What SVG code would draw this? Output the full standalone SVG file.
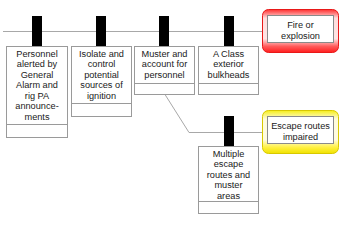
<svg xmlns="http://www.w3.org/2000/svg" width="350" height="250" viewBox="0 0 350 250">
<defs>
<style>
.box{fill:#fff;stroke:#9a9a9a;stroke-width:1}
.div{stroke:#9a9a9a;stroke-width:1;fill:none}
.bar{fill:#000}
.conn{stroke:#a8a8a8;stroke-width:1;fill:none}
text{font-family:"Liberation Sans",Arial,sans-serif;font-size:9.2px;fill:#1a1a1a;text-anchor:middle}
.inner{fill:#fff;stroke:#8a8a8a;stroke-width:1}
</style>
<linearGradient id="gRed" x1="0" y1="0" x2="0" y2="1">
<stop offset="0" stop-color="#ff2e2e"/>
<stop offset="0.2" stop-color="#ffdcdc"/>
<stop offset="0.68" stop-color="#ffe4e4"/>
<stop offset="0.86" stop-color="#ff5a5a"/>
<stop offset="1" stop-color="#ff1c1c"/>
</linearGradient>
<linearGradient id="gYel" x1="0" y1="0" x2="0" y2="1">
<stop offset="0" stop-color="#f6ee18"/>
<stop offset="0.2" stop-color="#fffcdc"/>
<stop offset="0.68" stop-color="#fffbe0"/>
<stop offset="0.86" stop-color="#fff040"/>
<stop offset="1" stop-color="#f0e200"/>
</linearGradient>
</defs>
<g id="connectors">
<path class="conn" d="M3,31.5 H262"/>
<path class="conn" d="M165,94.5 L189,132.5 H262"/>
</g>
<g id="node-alert">
<rect class="box" x="6.5" y="46.5" width="61" height="91"/>
<path class="div" d="M6.5,124.5 H67.5"/>
<rect class="bar" x="32" y="16" width="10" height="30"/>
<text x="37" y="56.5">Personnel</text>
<text x="37" y="67">alerted by</text>
<text x="37" y="77.5">General</text>
<text x="37" y="88">Alarm and</text>
<text x="37" y="98.5">rig PA</text>
<text x="37" y="109">announce-</text>
<text x="37" y="119.5">ments</text>
</g>
<g id="node-isolate">
<rect class="box" x="71.5" y="46.5" width="60" height="70"/>
<path class="div" d="M71.5,103.5 H131.5"/>
<rect class="bar" x="96" y="16" width="10" height="30"/>
<text x="101.5" y="56.5">Isolate and</text>
<text x="101.5" y="67">control</text>
<text x="101.5" y="77.5">potential</text>
<text x="101.5" y="88">sources of</text>
<text x="101.5" y="98.5">ignition</text>
</g>
<g id="node-muster">
<rect class="box" x="134.5" y="46.5" width="60" height="48"/>
<path class="div" d="M134.5,83.5 H194.5"/>
<rect class="bar" x="159" y="16" width="10" height="30"/>
<text x="164.5" y="56.5">Muster and</text>
<text x="164.5" y="67">account for</text>
<text x="164.5" y="77.5">personnel</text>
</g>
<g id="node-aclass">
<rect class="box" x="198.5" y="46.5" width="60" height="48"/>
<path class="div" d="M198.5,83.5 H258.5"/>
<rect class="bar" x="224" y="16" width="10" height="30"/>
<text x="228.5" y="56.5">A Class</text>
<text x="228.5" y="67">exterior</text>
<text x="228.5" y="77.5">bulkheads</text>
</g>
<g id="node-multiple">
<rect class="box" x="198.5" y="146.5" width="60" height="67"/>
<path class="div" d="M198.5,201.5 H258.5"/>
<rect class="bar" x="224" y="116" width="10" height="30"/>
<text x="228.5" y="156.5">Multiple</text>
<text x="228.5" y="167">escape</text>
<text x="228.5" y="177.5">routes and</text>
<text x="228.5" y="188">muster</text>
<text x="228.5" y="198.5">areas</text>
</g>
<g id="node-fire">
<rect x="262.5" y="9.5" width="76" height="43" rx="6" ry="6" fill="url(#gRed)" stroke="#e81818" stroke-width="1"/>
<rect class="inner" x="267.5" y="15.5" width="66" height="27"/>
<text x="300.5" y="28">Fire or</text>
<text x="300.5" y="38.5">explosion</text>
</g>
<g id="node-escape">
<rect x="262.5" y="110.5" width="76" height="43" rx="6" ry="6" fill="url(#gYel)" stroke="#d8c800" stroke-width="1"/>
<rect class="inner" x="267.5" y="116.5" width="66" height="27"/>
<text x="300.5" y="129">Escape routes</text>
<text x="300.5" y="139.5">impaired</text>
</g>
</svg>
